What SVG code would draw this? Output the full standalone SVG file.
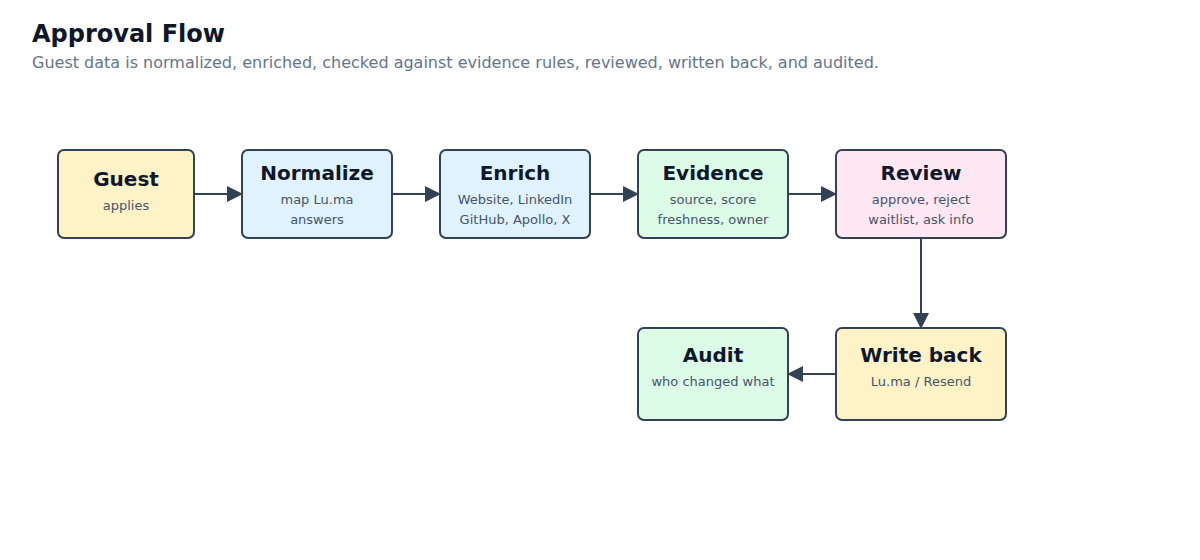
<svg xmlns="http://www.w3.org/2000/svg" width="1200" height="560" viewBox="0 0 1200 560">
<style>
text{font-family:"DejaVu Sans",sans-serif}
.t{font-size:20px;font-weight:bold;fill:#0f172a;text-anchor:middle}
.s{font-size:13px;fill:#475569;text-anchor:middle}
.box{stroke:#334155;stroke-width:2}
.c{stroke:#334155;stroke-width:2;fill:none;marker-end:url(#a)}
</style>
<defs><marker id="a" viewBox="0 0 10 10" refX="9" refY="5" markerWidth="8" markerHeight="8" markerUnits="userSpaceOnUse" orient="auto"><path d="M0,0L10,5L0,10z" fill="#334155"/></marker></defs>
<rect width="1200" height="560" fill="#fff"/>
<text x="32" y="42" style="font-size:24px;font-weight:bold;fill:#0f172a">Approval Flow</text>
<text x="32" y="68" style="font-size:16px;fill:#64748b">Guest data is normalized, enriched, checked against evidence rules, reviewed, written back, and audited.</text>
<g id="connectors">
<line class="c" x1="194" y1="194" x2="242" y2="194" style="marker-end:none"/><path d="M227,186L243,194L227,202z" fill="#334155"/>
<line x1="392" y1="194" x2="425" y2="194" stroke="#334155" stroke-width="2"/><path d="M425,186L441,194L425,202z" fill="#334155"/>
<line x1="590" y1="194" x2="623" y2="194" stroke="#334155" stroke-width="2"/><path d="M623,186L639,194L623,202z" fill="#334155"/>
<line x1="788" y1="194" x2="821" y2="194" stroke="#334155" stroke-width="2"/><path d="M821,186L837,194L821,202z" fill="#334155"/>
<line x1="921" y1="238" x2="921" y2="313" stroke="#334155" stroke-width="2"/><path d="M913,313L921,329L929,313z" fill="#334155"/>
<line x1="836" y1="374" x2="803" y2="374" stroke="#334155" stroke-width="2"/><path d="M803,366L787,374L803,382z" fill="#334155"/>
</g>
<g id="guest"><rect class="box" x="58" y="150" width="136" height="88" rx="6" fill="#fef3c7"/><text class="t" x="126" y="186">Guest</text><text class="s" x="126" y="210">applies</text></g>
<g id="normalize"><rect class="box" x="242" y="150" width="150" height="88" rx="6" fill="#e0f2fe"/><text class="t" x="317" y="180">Normalize</text><text class="s" x="317" y="204">map Lu.ma</text><text class="s" x="317" y="224">answers</text></g>
<g id="enrich"><rect class="box" x="440" y="150" width="150" height="88" rx="6" fill="#e0f2fe"/><text class="t" x="515" y="180">Enrich</text><text class="s" x="515" y="204">Website, LinkedIn</text><text class="s" x="515" y="224">GitHub, Apollo, X</text></g>
<g id="evidence"><rect class="box" x="638" y="150" width="150" height="88" rx="6" fill="#dcfce7"/><text class="t" x="713" y="180">Evidence</text><text class="s" x="713" y="204">source, score</text><text class="s" x="713" y="224">freshness, owner</text></g>
<g id="review"><rect class="box" x="836" y="150" width="170" height="88" rx="6" fill="#fce7f3"/><text class="t" x="921" y="180">Review</text><text class="s" x="921" y="204">approve, reject</text><text class="s" x="921" y="224">waitlist, ask info</text></g>
<g id="writeback"><rect class="box" x="836" y="328" width="170" height="92" rx="6" fill="#fef3c7"/><text class="t" x="921" y="362">Write back</text><text class="s" x="921" y="386">Lu.ma / Resend</text></g>
<g id="audit"><rect class="box" x="638" y="328" width="150" height="92" rx="6" fill="#dcfce7"/><text class="t" x="713" y="362">Audit</text><text class="s" x="713" y="386">who changed what</text></g>
</svg>
